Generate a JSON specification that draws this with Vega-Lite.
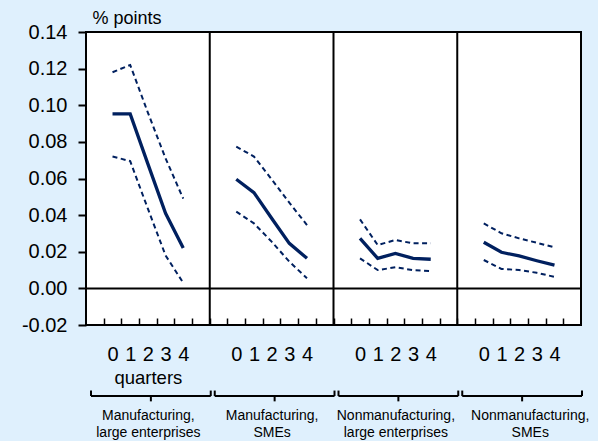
{
  "$schema": "https://vega.github.io/schema/vega-lite/v6.json",
  "width": 495,
  "height": 293,
  "autosize": {"type": "none"},
  "padding": {"left": 86, "top": 32, "right": 17, "bottom": 116},
  "background": "#DFF0FD",
  "config": {
    "font": "Liberation Sans",
    "view": {"fill": "white", "stroke": "black", "strokeWidth": 2},
    "axis": {"labelColor": "black", "labelFont": "Liberation Sans", "titleFont": "Liberation Sans", "grid": false, "labelFlush": false, "labelOverlap": false, "labelBound": false}
  },
  "datasets": {
    "irf": [
      {"sector": "Manufacturing, large enterprises", "p": 0, "q": 0, "mean": 0.0953, "lo": 0.0720, "hi": 0.1180},
      {"sector": "Manufacturing, large enterprises", "p": 0, "q": 1, "mean": 0.0953, "lo": 0.0695, "hi": 0.1220},
      {"sector": "Manufacturing, large enterprises", "p": 0, "q": 2, "mean": 0.0680, "lo": 0.0435, "hi": 0.0960},
      {"sector": "Manufacturing, large enterprises", "p": 0, "q": 3, "mean": 0.0410, "lo": 0.0180, "hi": 0.0710},
      {"sector": "Manufacturing, large enterprises", "p": 0, "q": 4, "mean": 0.0220, "lo": 0.0030, "hi": 0.0490},
      {"sector": "Manufacturing, SMEs", "p": 1, "q": 0, "mean": 0.0596, "lo": 0.0419, "hi": 0.0774},
      {"sector": "Manufacturing, SMEs", "p": 1, "q": 1, "mean": 0.0523, "lo": 0.0355, "hi": 0.0720},
      {"sector": "Manufacturing, SMEs", "p": 1, "q": 2, "mean": 0.0383, "lo": 0.0255, "hi": 0.0596},
      {"sector": "Manufacturing, SMEs", "p": 1, "q": 3, "mean": 0.0246, "lo": 0.0146, "hi": 0.0468},
      {"sector": "Manufacturing, SMEs", "p": 1, "q": 4, "mean": 0.0164, "lo": 0.0055, "hi": 0.0346},
      {"sector": "Nonmanufacturing, large enterprises", "p": 2, "q": 0, "mean": 0.0273, "lo": 0.0164, "hi": 0.0377},
      {"sector": "Nonmanufacturing, large enterprises", "p": 2, "q": 1, "mean": 0.0164, "lo": 0.0100, "hi": 0.0237},
      {"sector": "Nonmanufacturing, large enterprises", "p": 2, "q": 2, "mean": 0.0191, "lo": 0.0115, "hi": 0.0264},
      {"sector": "Nonmanufacturing, large enterprises", "p": 2, "q": 3, "mean": 0.0164, "lo": 0.0100, "hi": 0.0246},
      {"sector": "Nonmanufacturing, large enterprises", "p": 2, "q": 4, "mean": 0.0159, "lo": 0.0095, "hi": 0.0246},
      {"sector": "Nonmanufacturing, SMEs", "p": 3, "q": 0, "mean": 0.0252, "lo": 0.0155, "hi": 0.0355},
      {"sector": "Nonmanufacturing, SMEs", "p": 3, "q": 1, "mean": 0.0197, "lo": 0.0106, "hi": 0.0301},
      {"sector": "Nonmanufacturing, SMEs", "p": 3, "q": 2, "mean": 0.0177, "lo": 0.0100, "hi": 0.0273},
      {"sector": "Nonmanufacturing, SMEs", "p": 3, "q": 3, "mean": 0.0151, "lo": 0.0085, "hi": 0.0249},
      {"sector": "Nonmanufacturing, SMEs", "p": 3, "q": 4, "mean": 0.0127, "lo": 0.0063, "hi": 0.0224}
    ],
    "panels": [
      {"p": 0, "sector": "Manufacturing, large enterprises"},
      {"p": 1, "sector": "Manufacturing, SMEs"},
      {"p": 2, "sector": "Nonmanufacturing, large enterprises"},
      {"p": 3, "sector": "Nonmanufacturing, SMEs"}
    ]
  },
  "resolve": {"axis": {"x": "independent", "y": "independent"}},
  "layer": [
    {
      "data": {"name": "panels"},
      "transform": [{"calculate": "datum.p * 7", "as": "start"}, {"filter": "datum.p > 0"}],
      "mark": {"type": "rule", "color": "black", "strokeWidth": 2},
      "encoding": {
        "x": {"field": "start", "type": "quantitative", "scale": {"domain": [0, 28], "nice": false, "zero": false},
          "axis": {"orient": "bottom", "values": [3.5, 10.5, 17.5, 25.1], "ticks": false, "tickSize": 0, "domain": false, "labelPadding": 94, "labelBaseline": "alphabetic", "labelFontSize": 14, "labelLineHeight": 17.5, "title": null,
            "labelExpr": "datum.value < 7 ? ['Manufacturing,', 'large enterprises'] : datum.value < 14 ? ['Manufacturing,', 'SMEs'] : datum.value < 21 ? ['Nonmanufacturing,', 'large enterprises'] : ['Nonmanufacturing,', 'SMEs']"}}
      }
    },
    {
      "data": {"values": [{}]},
      "mark": {"type": "rule", "color": "black", "strokeWidth": 2},
      "encoding": {"y": {"datum": 0, "type": "quantitative", "scale": {"domain": [-0.02, 0.14], "nice": false, "zero": false}, "axis": null}}
    },
    {
      "data": {"name": "irf"},
      "transform": [{"calculate": "datum.p * 7 + datum.q + 1.5", "as": "pos"}],
      "mark": {"type": "line", "color": "#00205F", "strokeWidth": 2, "strokeDash": [5, 3.5]},
      "encoding": {
        "x": {"field": "pos", "type": "quantitative",
          "axis": {"orient": "bottom", "values": [1.5, 2.5, 3.5, 4.5, 5.5, 8.5, 9.5, 10.5, 11.5, 12.5, 15.5, 16.5, 17.5, 18.5, 19.5, 22.5, 23.5, 24.5, 25.5, 26.5], "ticks": false, "tickSize": 0, "domain": false, "labelPadding": 35.5, "labelBaseline": "alphabetic", "labelFontSize": 20, "title": null,
            "labelExpr": "'' + ((datum.value - 1.5) % 7)"}},
        "y": {"field": "hi", "type": "quantitative", "axis": null},
        "detail": {"field": "p"}
      }
    },
    {
      "data": {"name": "irf"},
      "transform": [{"calculate": "datum.p * 7 + datum.q + 1.5", "as": "pos"}],
      "mark": {"type": "line", "color": "#00205F", "strokeWidth": 2, "strokeDash": [5, 3.5]},
      "encoding": {
        "x": {"field": "pos", "type": "quantitative",
          "axis": {"orient": "bottom", "values": [3.5], "ticks": false, "tickSize": 0, "domain": false, "labelPadding": 58, "labelBaseline": "alphabetic", "labelFontSize": 18.5, "title": null, "labelExpr": "'quarters'"}},
        "y": {"field": "lo", "type": "quantitative", "axis": null},
        "detail": {"field": "p"}
      }
    },
    {
      "data": {"name": "irf"},
      "transform": [{"calculate": "datum.p * 7 + datum.q + 1.5", "as": "pos"}],
      "mark": {"type": "line", "color": "#00205F", "strokeWidth": 3.3},
      "encoding": {
        "x": {"field": "pos", "type": "quantitative",
          "axis": {"orient": "bottom", "values": [1, 2, 3, 4, 5, 6, 7, 8, 9, 10, 11, 12, 13, 14, 15, 16, 17, 18, 19, 20, 21, 22, 23, 24, 25, 26, 27], "labels": false, "domain": false, "tickSize": -7, "tickWidth": 1.5, "tickColor": "black", "title": null}},
        "y": {"field": "mean", "type": "quantitative",
          "axis": {"orient": "left", "values": [-0.02, 0, 0.02, 0.04, 0.06, 0.08, 0.1, 0.12, 0.14], "format": ".2f", "labelExpr": "replace(datum.label, '\u2212', '-')", "domain": false, "tickSize": 8, "tickWidth": 2, "tickColor": "black", "labelFontSize": 20, "labelPadding": 11,
            "title": "% points", "titleAngle": 0, "titleAlign": "left", "titleBaseline": "alphabetic", "titleX": 6, "titleY": -9, "titleFontSize": 18, "titleFontWeight": "normal", "titleColor": "black"}},
        "detail": {"field": "p"}
      }
    },
    {
      "data": {"name": "panels"},
      "transform": [{"calculate": "datum.p * 7", "as": "start"}, {"calculate": "datum.p * 7 + 7", "as": "end"}],
      "mark": {"type": "rule", "color": "black", "strokeWidth": 2, "xOffset": 5, "x2Offset": 1},
      "encoding": {
        "x": {"field": "start", "type": "quantitative", "axis": null},
        "x2": {"field": "end"},
        "y": {"datum": -0.0588, "type": "quantitative", "axis": null}
      }
    },
    {
      "data": {"name": "panels"},
      "transform": [{"calculate": "datum.p * 7", "as": "start"}],
      "mark": {"type": "rule", "color": "black", "strokeWidth": 2, "xOffset": 5},
      "encoding": {
        "x": {"field": "start", "type": "quantitative", "axis": null},
        "y": {"datum": -0.0588, "type": "quantitative", "axis": null},
        "y2": {"datum": -0.0558}
      }
    },
    {
      "data": {"name": "panels"},
      "transform": [{"calculate": "datum.p * 7 + 7", "as": "end"}],
      "mark": {"type": "rule", "color": "black", "strokeWidth": 2, "xOffset": 1},
      "encoding": {
        "x": {"field": "end", "type": "quantitative", "axis": null},
        "y": {"datum": -0.0588, "type": "quantitative", "axis": null},
        "y2": {"datum": -0.0558}
      }
    },
    {
      "data": {"name": "panels"},
      "transform": [{"calculate": "datum.p * 7 + 3.5", "as": "mid"}],
      "mark": {"type": "rule", "color": "black", "strokeWidth": 2, "xOffset": 3},
      "encoding": {
        "x": {"field": "mid", "type": "quantitative", "axis": null},
        "y": {"datum": -0.0588, "type": "quantitative", "axis": null},
        "y2": {"datum": -0.0617}
      }
    }
  ]
}
